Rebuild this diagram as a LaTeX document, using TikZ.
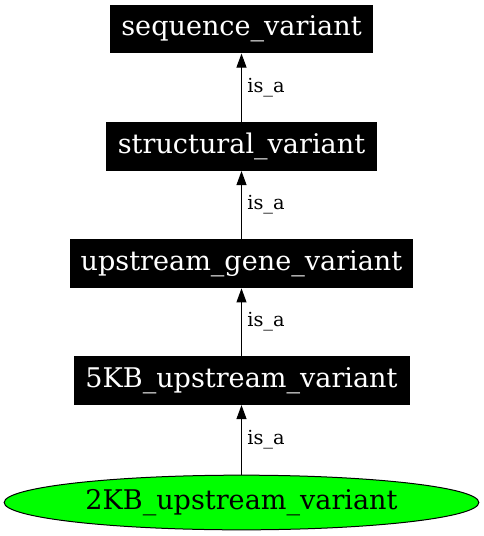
\documentclass[tikz,border=0pt]{standalone}
\usepackage{fontspec}
\setmainfont{DejaVu Serif}
\usetikzlibrary{shapes.geometric,arrows.meta}
\definecolor{nodegreen}{HTML}{00FF00}
\begin{document}
\begin{tikzpicture}[x=0.75pt,y=-0.75pt,
  termbox/.style={rectangle,fill=black,text=white,draw=none,minimum height=36.5pt,inner sep=0pt,font=\fontsize{20.3pt}{22pt}\selectfont},
  leafnode/.style={ellipse,fill=nodegreen,draw=black,line width=0.75pt,minimum height=41pt,inner sep=0pt,font=\fontsize{20.3pt}{22pt}\selectfont},
  isa/.style={draw=black,line width=0.8pt,-{Triangle[length=10.5pt,width=7.5pt]}},
  isalabel/.style={anchor=west,inner sep=0pt,font=\fontsize{14.5pt}{16pt}\selectfont}
]
\useasboundingbox (0,0) rectangle (483,536);
\node[termbox,minimum width=197pt] (sv) at (241.5,29) {sequence\_variant};
\node[termbox,minimum width=203pt] (stv) at (241.5,146.5) {structural\_variant};
\node[termbox,minimum width=257.5pt] (ugv) at (241.5,263.8) {upstream\_gene\_variant};
\node[termbox,minimum width=252pt] (fkb) at (241.5,380.5) {5KB\_upstream\_variant};
\node[leafnode,minimum width=356pt] (tkb) at (241.5,502.5) {2KB\_upstream\_variant};
\draw[isa] (stv.north) -- (sv.south) node[midway,isalabel,xshift=4pt] (l1) {is\_a};
\draw[isa] (ugv.north) -- (stv.south) node[midway,isalabel,xshift=4pt] (l2) {is\_a};
\draw[isa] (fkb.north) -- (ugv.south) node[midway,isalabel,xshift=4pt] (l3) {is\_a};
\draw[isa] (tkb.north) -- (fkb.south) node[midway,isalabel,xshift=4pt] (l4) {is\_a};
\end{tikzpicture}
\end{document}
